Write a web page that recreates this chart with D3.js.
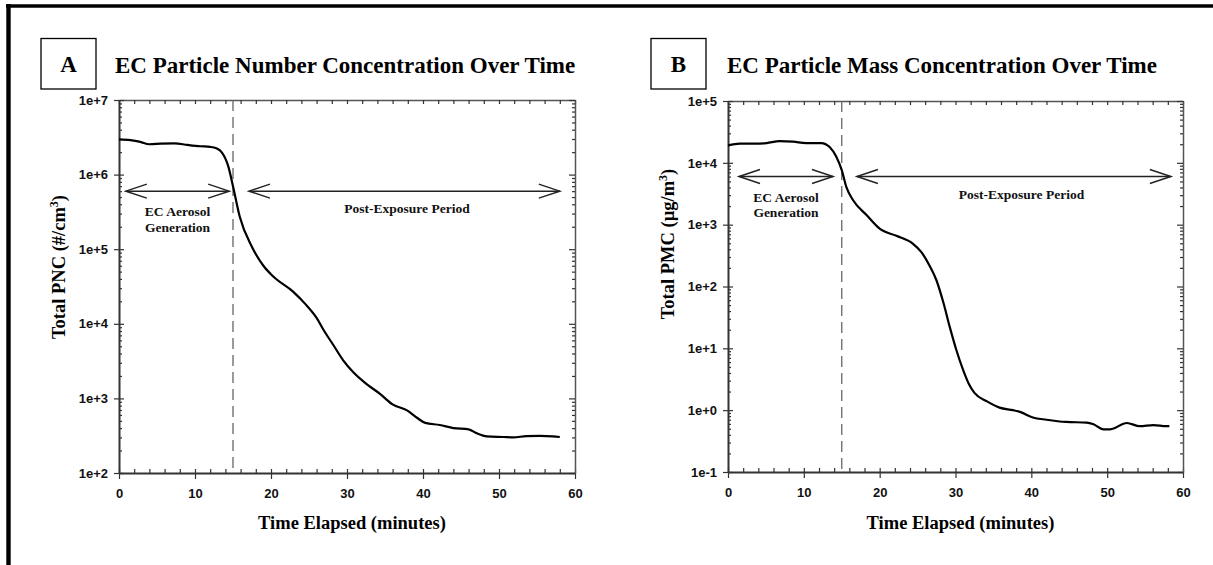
<!DOCTYPE html>
<html>
<head>
<meta charset="utf-8">
<script src="https://cdnjs.cloudflare.com/ajax/libs/d3/7.8.5/d3.min.js"></script>
<style>
  body { margin: 0; background: #fff; }
  .serif { font-family: "Liberation Serif", "Times New Roman", serif; font-weight: bold; }
</style>
</head>
<body>
<div id="chart"></div>
<script>
// time (minutes) and concentrations
const timeA = [0, 1.5, 2.8, 4, 5.5, 7.3, 9, 10.7, 12, 12.8, 13.5, 14.4, 15, 15.9, 17.5, 19, 20.3, 22.9, 24.5, 26, 27, 28.2, 29.5, 30.8, 32.5, 34.3, 36, 37.9, 39.2, 40.3, 42.2, 44, 46, 47.1, 48.4, 50.6, 51.9, 53.6, 55.4, 57.1, 58];
const pncA = [2.97e6, 2.9e6, 2.75e6, 2.55e6, 2.6e6, 2.62e6, 2.5e6, 2.4e6, 2.35e6, 2.25e6, 2.0e6, 1.27e6, 7.0e5, 2.7e5, 1.07e5, 6.0e4, 4.3e4, 2.7e4, 1.85e4, 1.2e4, 8.0e3, 5.2e3, 3.24e3, 2.26e3, 1.58e3, 1.16e3, 830, 690, 550, 470, 440, 400, 385, 340, 310, 304, 300, 313, 315, 310, 304];

const timeB = [0, 1.55, 3.75, 5.1, 6.8, 8.6, 10.3, 12.3, 13.4, 14.3, 15, 15.6, 16.5, 18.3, 20, 22.2, 24.4, 25.5, 26.6, 27.5, 28.4, 29.25, 30.1, 31, 31.8, 32.5, 34.1, 35.8, 37.6, 38.5, 40.2, 42, 44.6, 47.3, 48.2, 49.5, 50.4, 52.6, 54.3, 56.1, 57.8, 58.2];
const pmcB = [1.92e4, 2.04e4, 2.04e4, 2.09e4, 2.25e4, 2.2e4, 2.09e4, 2.09e4, 1.8e4, 1.24e4, 7.6e3, 4.07e3, 2.48e3, 1.42e3, 860, 660, 490, 360, 215, 125, 55, 22, 9.5, 4.5, 2.6, 1.9, 1.4, 1.1, 1.0, 0.94, 0.76, 0.70, 0.645, 0.63, 0.59, 0.49, 0.49, 0.62, 0.55, 0.575, 0.55, 0.55];

const xTicks = [0, 10, 20, 30, 40, 50, 60];
const yTicksA = [1e2, 1e3, 1e4, 1e5, 1e6, 1e7];
const yTicksB = [1e-1, 1e0, 1e1, 1e2, 1e3, 1e4, 1e5];

// arrows: [start, end] in minutes, and the level they sit at
const arrowsA = [[0.9, 14.5], [17.1, 58]];
const arrowLevelA = 6e5;
const arrowsB = [[1.45, 13.85], [17.0, 58.4]];
const arrowLevelB = 6e3;
const exposureEnd = 15;

const svg = d3.select('#chart')
  .append('svg')
  .attr('width', 1213)
  .attr('height', 565);

// thick frame on top and left
svg.append('line').attr('x1', 6).attr('x2', 1213).attr('y1', 6).attr('y2', 6)
  .attr('stroke', '#000').attr('stroke-width', 3.6);
svg.append('line').attr('x1', 8.5).attr('x2', 8.5).attr('y1', 4).attr('y2', 565)
  .attr('stroke', '#000').attr('stroke-width', 4.4);

function styleLabels(g) {
  g.selectAll('text')
    .attr('font-family', 'Arial, "Liberation Sans", sans-serif')
    .attr('font-weight', 'bold')
    .attr('font-size', '13px')
    .attr('fill', '#111');
}

function drawPanel(p) {
  const x = d3.scaleLinear().domain([0, 60]).range([p.left, p.right]);
  const y = d3.scaleLog().domain(p.yDomain).range([p.bottom, p.top]);

  // panel letter box and title
  svg.append('rect')
    .attr('x', p.boxX).attr('y', 38.5)
    .attr('width', 55).attr('height', 50.5)
    .attr('fill', 'none').attr('stroke', '#000').attr('stroke-width', 1.3);
  svg.append('text')
    .attr('class', 'serif')
    .attr('x', p.boxX + 27.5).attr('y', 72)
    .attr('text-anchor', 'middle')
    .attr('font-size', '23px')
    .text(p.letter);
  svg.append('text')
    .attr('class', 'serif')
    .attr('x', p.titleX).attr('y', 73)
    .attr('font-size', '23px')
    .text(p.title);

  const minorX = d3.range(0, 61, 2);
  const logMinor = [];
  p.yTicks.forEach(t => {
    for (let k = 2; k <= 9; k++) if (t * k < p.yDomain[1]) logMinor.push(t * k);
  });

  // bottom axis: majors outward, minors inward
  svg.append('g')
    .attr('transform', `translate(0, ${p.bottom})`)
    .call(d3.axisBottom(x).tickValues(xTicks).tickSize(6).tickSizeOuter(0).tickPadding(10))
    .call(g => g.select('.domain').attr('stroke', '#333').attr('stroke-width', 2))
    .call(styleLabels);
  svg.append('g')
    .attr('transform', `translate(0, ${p.bottom})`)
    .call(d3.axisBottom(x).tickValues(minorX).tickSize(-4).tickFormat(''))
    .call(g => g.select('.domain').remove());

  // top axis
  svg.append('g')
    .attr('transform', `translate(0, ${p.top})`)
    .call(d3.axisTop(x).tickValues(minorX).tickSize(-4).tickSizeOuter(0).tickFormat(''))
    .call(g => g.select('.domain').attr('stroke', '#555').attr('stroke-width', 1.5));

  // left axis
  svg.append('g')
    .attr('transform', `translate(${p.left}, 0)`)
    .call(d3.axisLeft(y).tickValues(p.yTicks).tickSize(5).tickSizeOuter(0).tickPadding(6)
      .tickFormat(d => d.toExponential()))
    .call(g => g.select('.domain').attr('stroke', '#333').attr('stroke-width', 2))
    .call(styleLabels);
  svg.append('g')
    .attr('transform', `translate(${p.left}, 0)`)
    .call(d3.axisLeft(y).tickValues(logMinor).tickSize(-3).tickFormat(''))
    .call(g => g.select('.domain').remove());
  svg.append('g')
    .attr('transform', `translate(${p.left}, 0)`)
    .call(d3.axisLeft(y).tickValues(p.yTicks).tickSize(-5).tickFormat(''))
    .call(g => g.select('.domain').remove());

  // right axis
  svg.append('g')
    .attr('transform', `translate(${p.right}, 0)`)
    .call(d3.axisRight(y).tickValues(logMinor).tickSize(-3).tickSizeOuter(0).tickFormat(''))
    .call(g => g.select('.domain').attr('stroke', '#555').attr('stroke-width', 1.5));
  svg.append('g')
    .attr('transform', `translate(${p.right}, 0)`)
    .call(d3.axisRight(y).tickValues(p.yTicks).tickSize(-6).tickFormat(''))
    .call(g => g.select('.domain').remove());

  svg.selectAll('.tick line').attr('stroke', '#333').attr('stroke-width', 1.2);

  // axis titles
  svg.append('text')
    .attr('class', 'serif')
    .attr('x', (p.left + p.right) / 2 + 5)
    .attr('y', 529)
    .attr('text-anchor', 'middle')
    .attr('font-size', '18.5px')
    .text('Time Elapsed (minutes)');

  const yt = svg.append('text')
    .attr('class', 'serif')
    .attr('transform', `translate(${p.left - 54}, ${p.yTitleY}) rotate(-90)`)
    .attr('text-anchor', 'middle')
    .attr('font-size', '18.5px');
  yt.append('tspan').text(p.yTitle);
  yt.append('tspan').attr('dy', -7).attr('font-size', '12px').text('3');
  yt.append('tspan').attr('dy', 7).text(')');

  // end of exposure
  svg.append('line')
    .attr('x1', x(exposureEnd)).attr('x2', x(exposureEnd))
    .attr('y1', p.top).attr('y2', p.bottom)
    .attr('stroke', '#666').attr('stroke-width', 1.3)
    .attr('stroke-dasharray', '11,6');

  // concentration curve
  svg.append('path')
    .datum(p.t.map((t, i) => [t, p.v[i]]))
    .attr('fill', 'none')
    .attr('stroke', '#000')
    .attr('stroke-width', 2.2)
    .attr('d', d3.line()
      .x(d => x(d[0]))
      .y(d => y(d[1]))
      .curve(d3.curveMonotoneX));

  // period arrows with open heads on both ends
  const ay = y(p.arrowLevel);
  const head = (xTip, dir) => `M${xTip + dir * 21},${ay - 7} L${xTip},${ay} L${xTip + dir * 21},${ay + 7}`;
  p.arrows.forEach(a => {
    svg.append('line')
      .attr('x1', x(a[0])).attr('x2', x(a[1]))
      .attr('y1', ay).attr('y2', ay)
      .attr('stroke', '#222').attr('stroke-width', 1.5);
    svg.append('path').attr('d', head(x(a[0]), 1))
      .attr('fill', 'none').attr('stroke', '#222').attr('stroke-width', 1.5);
    svg.append('path').attr('d', head(x(a[1]), -1))
      .attr('fill', 'none').attr('stroke', '#222').attr('stroke-width', 1.5);
  });

  // period labels
  const genX = x((p.arrows[0][0] + p.arrows[0][1]) / 2);
  svg.append('text').attr('class', 'serif')
    .attr('x', genX).attr('y', ay + 25)
    .attr('text-anchor', 'middle').attr('font-size', '13.5px').attr('fill', '#111')
    .text('EC Aerosol');
  svg.append('text').attr('class', 'serif')
    .attr('x', genX).attr('y', ay + 40.5)
    .attr('text-anchor', 'middle').attr('font-size', '13.5px').attr('fill', '#111')
    .text('Generation');
  svg.append('text').attr('class', 'serif')
    .attr('x', x(p.postLabelAt)).attr('y', ay + 22)
    .attr('text-anchor', 'middle').attr('font-size', '13.5px').attr('fill', '#111')
    .text('Post-Exposure Period');
}

drawPanel({
  letter: 'A', boxX: 41, titleX: 115,
  title: 'EC Particle Number Concentration Over Time',
  left: 119, right: 575, top: 100, bottom: 473,
  yDomain: [1e2, 1e7], yTicks: yTicksA,
  yTitle: 'Total PNC (#/cm', yTitleY: 267,
  t: timeA, v: pncA,
  arrows: arrowsA, arrowLevel: arrowLevelA, postLabelAt: 37.9
});

drawPanel({
  letter: 'B', boxX: 651, titleX: 727,
  title: 'EC Particle Mass Concentration Over Time',
  left: 728, right: 1183, top: 101, bottom: 472,
  yDomain: [1e-1, 1e5], yTicks: yTicksB,
  yTitle: 'Total PMC (\u00b5g/m', yTitleY: 244,
  t: timeB, v: pmcB,
  arrows: arrowsB, arrowLevel: arrowLevelB, postLabelAt: 38.7
});
</script>
</body>
</html>
